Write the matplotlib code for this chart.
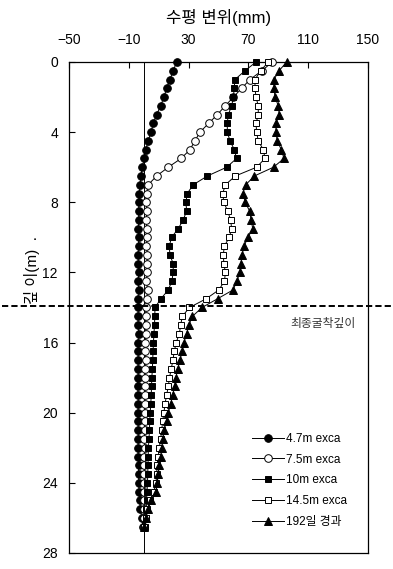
import numpy as np
import matplotlib
matplotlib.use("Agg")
import matplotlib.pyplot as plt
from matplotlib.transforms import blended_transform_factory

plt.rcParams['font.family'] = ['Liberation Sans', 'Noto Sans CJK KR']
plt.rcParams['axes.unicode_minus'] = True

# Inclinometer readings every 0.5 m (depth in m)
depth = [0.0, 0.5, 1.0, 1.5, 2.0, 2.5, 3.0, 3.5, 4.0, 4.5,
         5.0, 5.5, 6.0, 6.5, 7.0, 7.5, 8.0, 8.5, 9.0, 9.5,
         10.0, 10.5, 11.0, 11.5, 12.0, 12.5, 13.0, 13.5, 14.0, 14.5,
         15.0, 15.5, 16.0, 16.5, 17.0, 17.5, 18.0, 18.5, 19.0, 19.5,
         20.0, 20.5, 21.0, 21.5, 22.0, 22.5, 23.0, 23.5, 24.0, 24.5,
         25.0, 25.5, 26.0, 26.5]

# Horizontal displacement (mm) for each stage
disp_47 = [22.0, 19.7, 17.5, 15.3, 13.5, 11.3, 8.6, 6.4, 4.8, 3.0,
           1.3, 0.3, -1.0, -1.9, -2.5, -3.0, -3.2, -3.5, -3.3, -3.6,
           -3.4, -3.5, -3.8, -3.6, -3.4, -3.7, -3.5, -3.8, -3.6, -3.9,
           -3.7, -3.5, -3.8, -3.6, -3.9, -3.7, -3.8, -4.0, -3.8, -3.6,
           -3.9, -3.7, -3.8, -3.6, -3.9, -3.7, -3.5, -3.4, -3.4, -3.1,
           -2.8, -2.2, -1.4, -0.5]
disp_75 = [86.0, 79.0, 71.0, 65.5, 60.0, 54.5, 49.2, 43.4, 37.6, 34.2,
           30.9, 25.0, 16.4, 8.6, 3.0, 1.9, 1.8, 2.0, 1.7, 1.9,
           2.2, 1.8, 2.5, 2.0, 2.3, 1.8, 2.6, 2.0, 1.5, 1.3,
           1.2, 1.4, 1.1, 1.0, 1.2, 0.9, 1.0, 0.8, 0.9, 0.7,
           0.8, 0.6, 0.7, 0.5, 0.6, 0.4, 0.5, 0.3, 0.4, 0.2,
           0.3, 0.1, 0.2, 0.0]
disp_10 = [75.1, 67.7, 61.0, 60.5, 60.0, 58.8, 56.5, 55.9, 55.9, 57.7,
           60.6, 62.1, 55.5, 42.6, 33.1, 29.1, 28.2, 28.7, 26.4, 23.1,
           18.6, 17.1, 17.5, 19.7, 19.7, 18.8, 16.4, 11.5, 7.5, 7.4,
           7.2, 6.8, 6.5, 6.2, 6.0, 5.8, 5.4, 5.2, 5.0, 4.7,
           4.3, 4.0, 3.8, 3.5, 3.1, 3.0, 2.8, 2.7, 2.5, 2.2,
           1.9, 1.6, 1.2, 0.6]
disp_145 = [83.3, 78.2, 74.4, 74.4, 75.1, 76.6, 76.6, 75.1, 75.5, 76.6,
            80.0, 81.1, 75.5, 61.3, 54.6, 52.8, 53.6, 56.1, 58.1, 58.8,
            57.2, 53.9, 53.2, 53.6, 54.6, 54.0, 50.2, 41.8, 30.6, 25.8,
            24.7, 23.8, 21.7, 20.4, 19.5, 18.4, 17.2, 16.4, 15.3, 14.2,
            13.5, 12.6, 12.0, 11.3, 10.4, 9.7, 9.0, 8.6, 8.2, 6.8,
            4.2, 2.5, 1.2, 0.3]
disp_192d = [95.6, 90.5, 87.1, 87.1, 87.8, 90.0, 90.6, 88.4, 88.4, 89.3,
             92.0, 93.8, 86.8, 74.0, 68.2, 66.3, 67.9, 70.8, 71.8, 72.9,
             69.7, 67.1, 65.8, 64.9, 64.3, 62.3, 59.7, 49.4, 39.0, 32.6,
             30.1, 28.6, 26.9, 25.6, 24.3, 22.7, 21.5, 20.6, 19.3, 18.0,
             16.4, 15.3, 13.5, 12.6, 12.0, 11.3, 10.4, 9.7, 9.0, 8.2,
             5.0, 3.0, 1.5, 0.5]

labels = ['4.7m exca', '7.5m exca', '10m exca', '14.5m exca', '192일 경과']
x_ticks = [-50, -10, 30, 70, 110, 150]
y_ticks = [0, 4, 8, 12, 16, 20, 24, 28]
final_depth = 13.9

fig = plt.figure(figsize=(3.93, 5.69), dpi=100)
ax = fig.add_axes([0.17557, 0.02812, 0.76081, 0.86292])

ax.axvline(0, color='black', lw=0.7, zorder=1)

styles = [
    dict(marker='o', mfc='black', ms=5.5),
    dict(marker='o', mfc='white', ms=5.5),
    dict(marker='s', mfc='black', ms=5.0),
    dict(marker='s', mfc='white', ms=5.0),
    dict(marker='^', mfc='black', ms=5.8),
]
series = [disp_47, disp_75, disp_10, disp_145, disp_192d]
for vals, lab, st in zip(series, labels, styles):
    ax.plot(vals, depth, color='black', lw=0.7, mec='black', mew=0.7,
            label=lab, clip_on=False, zorder=3, **st)

ax.set_xlim(-50, 150)
ax.set_ylim(28, 0)
ax.xaxis.tick_top()
ax.set_xticks(x_ticks)
ax.set_yticks(y_ticks)
ax.set_xticklabels([str(v).replace('-', '\u2212') for v in x_ticks])
ax.tick_params(axis='x', direction='in', length=4, width=0.8, labelsize=10, pad=11)
ax.tick_params(axis='y', direction='in', length=4, width=0.8, labelsize=10, pad=8)
for sp in ax.spines.values():
    sp.set_linewidth(0.9)

# final excavation depth line, running across the full figure width
tr = blended_transform_factory(ax.transAxes, ax.transData)
ax.plot([-0.224, 1.084], [final_depth, final_depth], transform=tr,
        color='black', lw=1.4, ls=(0, (3.2, 1.6)), clip_on=False, zorder=4)
ax.text(0.85, final_depth + 1.0, '최종굴착깊이', transform=tr, fontsize=8.5,
        color='#333333', ha='center', va='center',
        family=['Noto Sans CJK KR'])

fig.text(0.556, 0.969, '수평 변위(mm)', ha='center', va='center', fontsize=12)
fig.text(0.082, 0.525, '깊 이(m)  .', ha='center', va='center', fontsize=11,
         rotation=90)

ax.legend(loc='upper left', bbox_to_anchor=(0.612, 0.245), frameon=False,
          fontsize=8.5, handlelength=2.7, handletextpad=0.2, labelspacing=0.75,
          borderpad=0, borderaxespad=0)

fig.savefig('out.png', dpi=100)
